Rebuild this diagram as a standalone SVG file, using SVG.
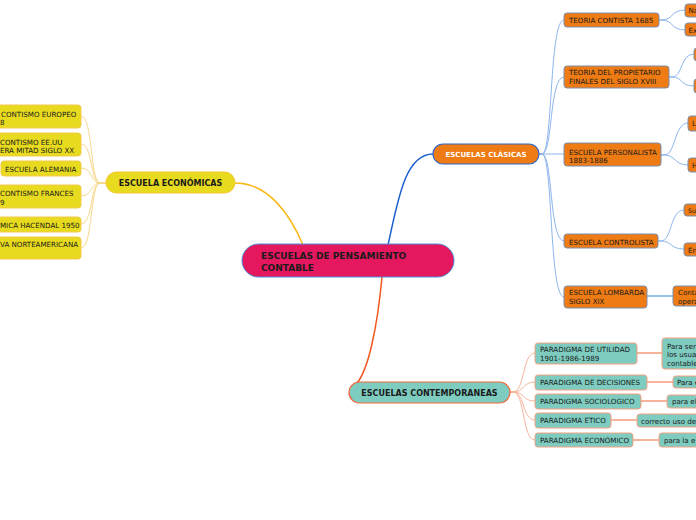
<svg xmlns="http://www.w3.org/2000/svg" width="696" height="520" viewBox="0 0 696 520">
<style>
text{font-family:"DejaVu Sans","Verdana",sans-serif;fill:#1a1a1a}
.s{font-size:7.1px}
.xs{font-size:6.2px}
.b{font-weight:bold}
.yl{fill:#E8DB1F;stroke:#F2C94C;stroke-width:1}
.or{fill:#EE7B13;stroke:#7D8FAE;stroke-width:1}
.tl{fill:#7ECCC0;stroke:#F4A283;stroke-width:1}
.cy{fill:none;stroke:#F7D98C;stroke-width:1}
.cb{fill:none;stroke:#8DB5EE;stroke-width:1}
.cs{fill:none;stroke:#F8B49A;stroke-width:1}
</style>
<rect width="696" height="520" fill="#ffffff"/>
<g id="connectors">
<path d="M303,245 C290,214 268,183 235,183" fill="none" stroke="#F9B814" stroke-width="1.5"/>
<path d="M388,245 C398,200 405,154 433,154" fill="none" stroke="#1B5FCF" stroke-width="1.5"/>
<path d="M382,277 C377,330 368,370 357,383" fill="none" stroke="#F2561F" stroke-width="1.5"/>
<path class="cy" d="M106,183 L100,183 C90,183 93,116 81,116"/>
<path class="cy" d="M106,183 L100,183 C90,183 93,144 81,144"/>
<path class="cy" d="M106,183 L100,183 C90,183 93,168 81,168"/>
<path class="cy" d="M106,183 L100,183 C90,183 93,196 81,196"/>
<path class="cy" d="M106,183 L100,183 C90,183 93,224 81,224"/>
<path class="cy" d="M106,183 L100,183 C90,183 93,248 81,248"/>
<path class="cb" d="M539,154 L542,154 C553,154 549,20 564,20"/>
<path class="cb" d="M539,154 L542,154 C553,154 549,77 564,77"/>
<path class="cb" d="M539,154 L564,154"/>
<path class="cb" d="M539,154 L542,154 C553,154 549,241 564,241"/>
<path class="cb" d="M539,154 L542,154 C553,154 549,297 564,297"/>
<path class="cb" d="M659,20 L662,20 C673,20 671,10 685,10"/>
<path class="cb" d="M659,20 L662,20 C673,20 671,30 685,30"/>
<path class="cb" d="M669,77 L672,77 C683,77 680,54 694,54"/>
<path class="cb" d="M669,77 L672,77 C683,77 680,86 694,86"/>
<path class="cb" d="M661,155 L664,155 C676,155 674,123 688,123"/>
<path class="cb" d="M661,155 L664,155 C676,155 674,165 688,165"/>
<path class="cb" d="M658,241 L661,241 C672,241 670,210 684,210"/>
<path class="cb" d="M658,241 L661,241 C672,241 670,249 684,249"/>
<path d="M647,296 L673,296" fill="none" stroke="#9CC0F0" stroke-width="2"/>
<path class="cs" d="M510,392 L513,392 C525,392 522,353 535,353"/>
<path class="cs" d="M510,392 L513,392 C525,392 522,382 535,382"/>
<path class="cs" d="M510,392 L513,392 C525,392 522,401 535,401"/>
<path class="cs" d="M510,392 L513,392 C525,392 522,420 535,420"/>
<path class="cs" d="M510,392 L513,392 C525,392 522,440 535,440"/>
<path d="M637,353 L662,353" fill="none" stroke="#F8B49A" stroke-width="2"/>
<path d="M647,382 L673,382" fill="none" stroke="#F8B49A" stroke-width="2"/>
<path d="M641,401 L667,401" fill="none" stroke="#F8B49A" stroke-width="2"/>
<path d="M611,420 L637,420" fill="none" stroke="#F8B49A" stroke-width="2"/>
<path d="M633,440 L659,440" fill="none" stroke="#F8B49A" stroke-width="2"/>
</g>
<g id="central">
<rect x="242" y="244" width="212" height="33" rx="16.5" fill="#E5185F" stroke="#4A8FD6" stroke-width="1"/>
<text x="261" y="259" font-size="9px" class="b">ESCUELAS DE PENSAMIENTO</text>
<text x="261" y="270.5" font-size="9px" class="b">CONTABLE</text>
</g>
<g id="economicas">
<rect x="106" y="172" width="129" height="21" rx="10.5" fill="#E8DB1F" stroke="#F5C431" stroke-width="1"/>
<text x="170.5" y="186" font-size="8px" class="b" text-anchor="middle">ESCUELA ECONÓMICAS</text>
</g>
<g id="eco1"><rect class="yl" x="-60" y="105" width="141" height="23" rx="3"/><text class="s" x="1" y="116.5">CONTISMO EUROPEO</text><text class="s" x="0" y="125">8</text></g>
<g id="eco2"><rect class="yl" x="-60" y="133" width="141" height="23" rx="3"/><text class="s" x="0" y="144.5">CONTISMO EE.UU</text><text class="s" x="0" y="153">ERA MITAD SIGLO XX</text></g>
<g id="eco3"><rect class="yl" x="1" y="161" width="80" height="15" rx="3"/><text class="s" x="5" y="171.5">ESCUELA ALEMANIA</text></g>
<g id="eco4"><rect class="yl" x="-60" y="185" width="141" height="23" rx="3"/><text class="s" x="0" y="196">CONTISMO FRANCES</text><text class="s" x="0" y="204.5">9</text></g>
<g id="eco5"><rect class="yl" x="-60" y="217" width="141" height="15" rx="3"/><text class="s" x="0" y="227.5">MICA HACENDAL 1950</text></g>
<g id="eco6"><rect class="yl" x="-60" y="237" width="141" height="22" rx="3"/><text class="s" x="0" y="247">VA NORTEAMERICANA</text></g>
<g id="clasicas">
<rect x="433" y="144" width="106" height="20" rx="10" fill="#EE7B13" stroke="#2F67C9" stroke-width="1.2"/>
<text x="486" y="157" font-size="7px" class="b" text-anchor="middle" style="fill:#ffffff">ESCUELAS CLÁSICAS</text>
</g>
<g id="cla1"><rect class="or" x="564" y="13" width="95" height="14" rx="3"/><text class="s" x="569" y="23">TEORIA CONTISTA 1685</text></g>
<g id="cla2"><rect class="or" x="564" y="66" width="105" height="22" rx="3"/><text class="s" x="569" y="75">TEORIA DEL PROPIETARIO</text><text class="s" x="569" y="84">FINALES DEL SIGLO XVIII</text></g>
<g id="cla3"><rect class="or" x="564" y="143" width="97" height="23" rx="3"/><text class="s" x="569" y="154.5">ESCUELA PERSONALISTA</text><text class="s" x="569" y="163">1883-1886</text></g>
<g id="cla4"><rect class="or" x="564" y="234" width="94" height="14" rx="3"/><text class="s" x="569" y="244.5">ESCUELA CONTROLISTA</text></g>
<g id="cla5"><rect class="or" x="564" y="286" width="83" height="22" rx="3"/><text class="s" x="569" y="295">ESCUELA LOMBARDA</text><text class="s" x="569" y="303.5">SIGLO XIX</text></g>
<g id="cla1a"><rect class="or" x="685" y="4" width="40" height="13" rx="3"/><text class="s" x="688.5" y="13">Na</text></g>
<g id="cla1b"><rect class="or" x="685" y="23" width="40" height="13" rx="3"/><text class="s" x="688.5" y="32.5">Ex</text></g>
<g id="cla2a"><rect class="or" x="694" y="48" width="40" height="13" rx="3"/></g>
<g id="cla2b"><rect class="or" x="694" y="79" width="40" height="14" rx="3"/></g>
<g id="cla3a"><rect class="or" x="688" y="116" width="40" height="15" rx="3"/><text class="s" x="692" y="126">L</text></g>
<g id="cla3b"><rect class="or" x="688" y="158" width="40" height="14" rx="3"/><text class="s" x="692" y="168">H</text></g>
<g id="cla4a"><rect class="or" x="684" y="204" width="40" height="12" rx="3"/><text class="xs" x="688" y="212.5">Su</text></g>
<g id="cla4b"><rect class="or" x="684" y="243" width="40" height="13" rx="3"/><text class="s" x="688" y="252.5">En</text></g>
<g id="cla5a"><rect class="or" x="673" y="286" width="60" height="20" rx="3"/><text class="s" x="678" y="295">Conta</text><text class="s" x="678" y="304">opera</text></g>
<g id="contemporaneas">
<rect x="349" y="382" width="161" height="21" rx="10.5" fill="#7ECCC0" stroke="#F2683A" stroke-width="1.2"/>
<text x="429.5" y="395.5" font-size="8px" class="b" text-anchor="middle">ESCUELAS CONTEMPORANEAS</text>
</g>
<g id="con1"><rect class="tl" x="535" y="343" width="102" height="21" rx="3"/><text class="s" x="540" y="352">PARADIGMA DE UTILIDAD</text><text class="s" x="540" y="361">1901-1986-1989</text></g>
<g id="con2"><rect class="tl" x="535" y="375" width="112" height="15" rx="3"/><text class="s" x="540" y="385">PARADIGMA DE DECISIONES</text></g>
<g id="con3"><rect class="tl" x="535" y="394" width="106" height="15" rx="3"/><text class="s" x="540" y="404">PARADIGMA SOCIOLOGICO</text></g>
<g id="con4"><rect class="tl" x="535" y="413" width="76" height="15" rx="3"/><text class="s" x="540" y="423">PARADIGMA ETICO</text></g>
<g id="con5"><rect class="tl" x="535" y="433" width="98" height="14" rx="3"/><text class="s" x="540" y="442.5">PARADIGMA ECONÓMICO</text></g>
<g id="con1a"><rect class="tl" x="662" y="338" width="60" height="31" rx="3"/><text class="s" x="667" y="348.5">Para ser</text><text class="s" x="667" y="357">los usua</text><text class="s" x="667" y="365.5">contable</text></g>
<g id="con2a"><rect class="tl" x="673" y="376" width="50" height="12" rx="3"/><text class="s" x="677" y="385">Para e</text></g>
<g id="con3a"><rect class="tl" x="667" y="395" width="50" height="13" rx="3"/><text class="s" x="672" y="404">para el</text></g>
<g id="con4a"><rect class="tl" x="637" y="414" width="80" height="13" rx="3"/><text class="s" x="641" y="423.5">correcto uso de</text></g>
<g id="con5a"><rect class="tl" x="659" y="433" width="60" height="14" rx="3"/><text class="s" x="664" y="442.5">para la e</text></g>
</svg>
